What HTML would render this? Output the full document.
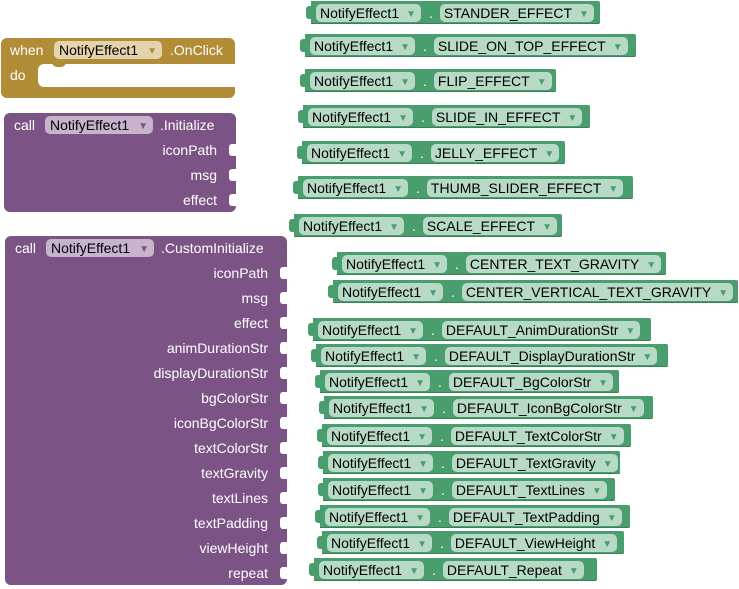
<!DOCTYPE html>
<html><head><meta charset="utf-8"><style>
body{margin:0;width:739px;height:589px;background:#fff;position:relative;overflow:hidden;font-family:"Liberation Sans",Arial,sans-serif;font-size:14px}
.g{position:absolute;height:23px;background:#4a9d6d;display:flex;align-items:center;padding-left:5px;box-sizing:border-box;border-radius:0 2px 2px 0;box-shadow:inset 0 -1px 0 #3a7f57}
.g:before{content:"";position:absolute;left:-5px;top:5px;width:6px;height:13px;background:#4a9d6d;border-radius:3px 0 0 3px}
.p{background:#b6dac5;border-radius:5px;height:18px;line-height:18px;padding:0 5px 0 4px;color:#000;white-space:nowrap}
.p i{font-style:normal;font-size:10px;color:#4a9d6d;margin-left:7px;position:relative;top:-1px}
.d{color:#fff;margin:0 7px 0 8px;font-size:14px}
.pu{position:absolute;background:#7b5385;border-radius:6px}
.l{position:absolute;color:#fff;text-align:right;white-space:nowrap}
.s{position:absolute;width:7px;height:12px;background:#fff;border-radius:3px 0 0 3px}
.pp{background:#c8b3cd;border-radius:5px;height:18px;line-height:18px;padding:0 5px 0 5px;color:#000;position:absolute}
.pp i{font-style:normal;font-size:10px;color:#7b5385;margin-left:9px;position:relative;top:-1px}
</style></head><body>

<div style="position:absolute;left:1px;top:38px;width:234px;height:60px;background:#b08d36;border-radius:6px"></div>
<div style="position:absolute;left:38px;top:64px;width:198px;height:23px;background:#fff;border-radius:6px 0 0 6px"></div>
<div style="position:absolute;left:52px;top:62px;width:14px;height:5px;background:#b08d36;border-radius:0 0 5px 5px"></div>
<div class="l" style="left:10px;top:42px">when</div>
<div class="pp" style="left:54px;top:41px;background:#e4d4ad">NotifyEffect1<i style="color:#b08d36">▼</i></div>
<div class="l" style="left:170px;top:42px">.OnClick</div>
<div class="l" style="left:10px;top:67px">do</div>

<div class="pu" style="left:4px;top:113px;width:232px;height:99px"></div>
<div class="l" style="left:14px;top:117px">call</div>
<div class="pp" style="left:45px;top:116px">NotifyEffect1<i>▼</i></div>
<div class="l" style="left:160px;top:117px">.Initialize</div>
<div class="l" style="right:522px;top:142px">iconPath</div><div class="s" style="left:229px;top:144px"></div>
<div class="l" style="right:522px;top:167px">msg</div><div class="s" style="left:229px;top:169px"></div>
<div class="l" style="right:522px;top:192px">effect</div><div class="s" style="left:229px;top:194px"></div>

<div class="pu" style="left:5px;top:236px;width:282px;height:349px"></div>
<div class="l" style="left:15px;top:240px">call</div>
<div class="pp" style="left:46px;top:239px">NotifyEffect1<i>▼</i></div>
<div class="l" style="left:161px;top:240px">.CustomInitialize</div>
<div class="l" style="right:471px;top:265px">iconPath</div><div class="s" style="left:280px;top:267px"></div>
<div class="l" style="right:471px;top:290px">msg</div><div class="s" style="left:280px;top:292px"></div>
<div class="l" style="right:471px;top:315px">effect</div><div class="s" style="left:280px;top:317px"></div>
<div class="l" style="right:471px;top:340px">animDurationStr</div><div class="s" style="left:280px;top:342px"></div>
<div class="l" style="right:471px;top:365px">displayDurationStr</div><div class="s" style="left:280px;top:367px"></div>
<div class="l" style="right:471px;top:390px">bgColorStr</div><div class="s" style="left:280px;top:392px"></div>
<div class="l" style="right:471px;top:415px">iconBgColorStr</div><div class="s" style="left:280px;top:417px"></div>
<div class="l" style="right:471px;top:440px">textColorStr</div><div class="s" style="left:280px;top:442px"></div>
<div class="l" style="right:471px;top:465px">textGravity</div><div class="s" style="left:280px;top:467px"></div>
<div class="l" style="right:471px;top:490px">textLines</div><div class="s" style="left:280px;top:492px"></div>
<div class="l" style="right:471px;top:515px">textPadding</div><div class="s" style="left:280px;top:517px"></div>
<div class="l" style="right:471px;top:540px">viewHeight</div><div class="s" style="left:280px;top:542px"></div>
<div class="l" style="right:471px;top:565px">repeat</div><div class="s" style="left:280px;top:567px"></div>

<div class="g" style="left:311px;top:1px;width:289px"><span class="p">NotifyEffect1<i>▼</i></span><span class="d">.</span><span class="p">STANDER_EFFECT<i>▼</i></span></div>
<div class="g" style="left:305px;top:34px;width:331px"><span class="p">NotifyEffect1<i>▼</i></span><span class="d">.</span><span class="p">SLIDE_ON_TOP_EFFECT<i>▼</i></span></div>
<div class="g" style="left:305px;top:69px;width:251px"><span class="p">NotifyEffect1<i>▼</i></span><span class="d">.</span><span class="p">FLIP_EFFECT<i>▼</i></span></div>
<div class="g" style="left:303px;top:105px;width:287px"><span class="p">NotifyEffect1<i>▼</i></span><span class="d">.</span><span class="p">SLIDE_IN_EFFECT<i>▼</i></span></div>
<div class="g" style="left:302px;top:141px;width:263px"><span class="p">NotifyEffect1<i>▼</i></span><span class="d">.</span><span class="p">JELLY_EFFECT<i>▼</i></span></div>
<div class="g" style="left:298px;top:176px;width:335px"><span class="p">NotifyEffect1<i>▼</i></span><span class="d">.</span><span class="p">THUMB_SLIDER_EFFECT<i>▼</i></span></div>
<div class="g" style="left:294px;top:214px;width:268px"><span class="p">NotifyEffect1<i>▼</i></span><span class="d">.</span><span class="p">SCALE_EFFECT<i>▼</i></span></div>
<div class="g" style="left:337px;top:252px;width:329px"><span class="p">NotifyEffect1<i>▼</i></span><span class="d">.</span><span class="p">CENTER_TEXT_GRAVITY<i>▼</i></span></div>
<div class="g" style="left:333px;top:280px;width:405px"><span class="p">NotifyEffect1<i>▼</i></span><span class="d">.</span><span class="p">CENTER_VERTICAL_TEXT_GRAVITY<i>▼</i></span></div>
<div class="g" style="left:313px;top:318px;width:338px"><span class="p">NotifyEffect1<i>▼</i></span><span class="d">.</span><span class="p">DEFAULT_AnimDurationStr<i>▼</i></span></div>
<div class="g" style="left:316px;top:344px;width:352px"><span class="p">NotifyEffect1<i>▼</i></span><span class="d">.</span><span class="p">DEFAULT_DisplayDurationStr<i>▼</i></span></div>
<div class="g" style="left:320px;top:370px;width:299px"><span class="p">NotifyEffect1<i>▼</i></span><span class="d">.</span><span class="p">DEFAULT_BgColorStr<i>▼</i></span></div>
<div class="g" style="left:324px;top:396px;width:329px"><span class="p">NotifyEffect1<i>▼</i></span><span class="d">.</span><span class="p">DEFAULT_IconBgColorStr<i>▼</i></span></div>
<div class="g" style="left:322px;top:424px;width:309px"><span class="p">NotifyEffect1<i>▼</i></span><span class="d">.</span><span class="p">DEFAULT_TextColorStr<i>▼</i></span></div>
<div class="g" style="left:323px;top:451px;width:297px"><span class="p">NotifyEffect1<i>▼</i></span><span class="d">.</span><span class="p">DEFAULT_TextGravity<i>▼</i></span></div>
<div class="g" style="left:323px;top:478px;width:292px"><span class="p">NotifyEffect1<i>▼</i></span><span class="d">.</span><span class="p">DEFAULT_TextLines<i>▼</i></span></div>
<div class="g" style="left:320px;top:505px;width:310px"><span class="p">NotifyEffect1<i>▼</i></span><span class="d">.</span><span class="p">DEFAULT_TextPadding<i>▼</i></span></div>
<div class="g" style="left:322px;top:531px;width:302px"><span class="p">NotifyEffect1<i>▼</i></span><span class="d">.</span><span class="p">DEFAULT_ViewHeight<i>▼</i></span></div>
<div class="g" style="left:314px;top:558px;width:283px"><span class="p">NotifyEffect1<i>▼</i></span><span class="d">.</span><span class="p">DEFAULT_Repeat<i>▼</i></span></div>

</body></html>
